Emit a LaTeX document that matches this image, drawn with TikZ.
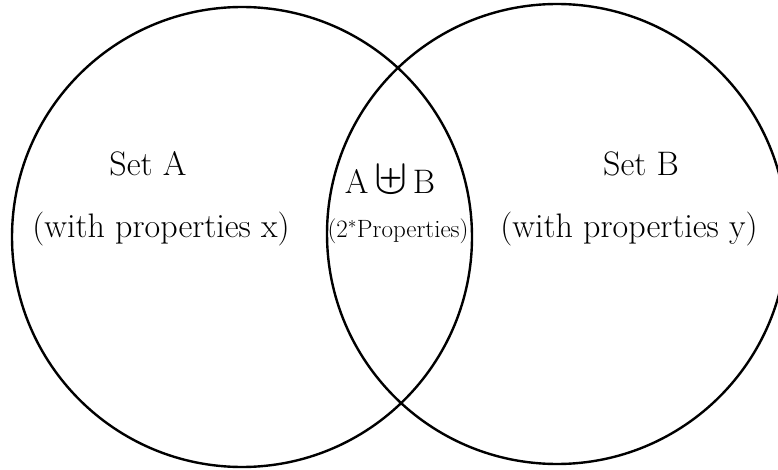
\documentclass[tikz,border=0pt]{standalone}
\usetikzlibrary{positioning}
\tikzset{
	settext/.style={font=\fontsize{34}{38}\selectfont}
}
\tikzset{
	smallsettext/.style={font=\fontsize{25}{28}\selectfont}
}
\tikzset{
	setcircle/.style={draw, circle, line width=2.4pt, minimum size=460pt, inner sep=0pt}
}
\newcommand{\bigup}{\scalebox{2}{$\uplus$}}

\begin{document}
\begin{tikzpicture}[x=1pt, y=-1pt]
      \useasboundingbox (0,0) rectangle (778,470);
      % the two sets
      \node[setcircle] (setA) at (242,237) {};
      \node[setcircle] (setB) at (557,234) {};
      % Set A
      \node[settext] (nameA) at (148,164) {Set A};
      \node[settext] (propA) at (161,229) {(with properties x)};
      % overlap
      \node[settext] (nameAB) at (390,180) {A\,\bigup\,B};
      \node[smallsettext] (propAB) at (398,231) {(2$^*$Properties)};
      % Set B
      \node[settext] (nameB) at (641,164) {Set B};
      \node[settext] (propB) at (629,229) {(with properties y)};
    \end{tikzpicture}
\end{document}
